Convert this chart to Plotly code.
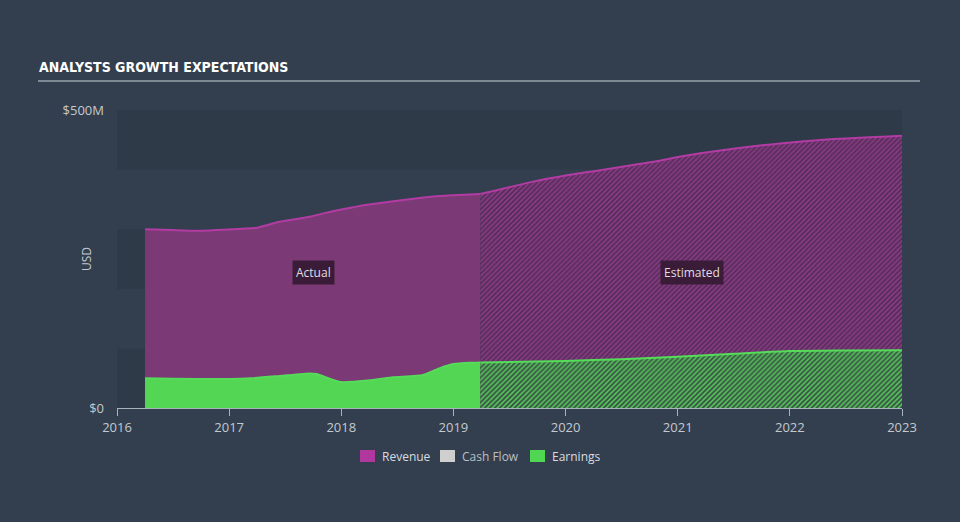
import plotly.graph_objects as go

# ---- data (values in $M, x in fractional years) ----
rev_actual_x = [2016.25, 2016.5, 2016.74, 2016.95, 2017.25, 2017.45, 2017.72, 2017.84, 2018.0, 2018.23, 2018.59, 2018.88, 2019.0, 2019.24]
rev_actual_y = [300, 298.5, 297.5, 299, 302.6, 312.6, 321, 326.6, 333, 341, 350, 355.7, 357, 359]
rev_est_x = [2019.24, 2019.69, 2020.0, 2020.31, 2020.84, 2021.0, 2021.46, 2021.91, 2022.36, 2023.0]
rev_est_y = [359, 379, 390, 399, 415, 421, 434, 444, 451, 457]

earn_actual_x = [2016.25, 2016.5, 2016.95, 2017.2, 2017.45, 2017.72, 2017.78, 2017.99, 2018.28, 2018.46, 2018.73, 2018.88, 2019.0, 2019.17, 2019.24]
earn_actual_y = [50, 49, 48.7, 50, 53.7, 58, 57, 43.6, 47, 51.5, 55.4, 67, 73.8, 76, 76.5]
earn_est_x = [2019.24, 2020.0, 2020.5, 2021.0, 2021.5, 2022.0, 2022.5, 2023.0]
earn_est_y = [76.5, 79, 82, 86, 91, 95.5, 96.5, 97]

year_ticks = [2016, 2017, 2018, 2019, 2020, 2021, 2022, 2023]
y_ticks = [0, 500]
y_tick_text = ["$0", "$500M"]
legend_names = ["Revenue", "Cash Flow", "Earnings"]
legend_colors = ["#b0379e", "#cfcfcf", "#4fd653"]
legend_text_colors = ["#d8dce0", "#b9bfc5", "#d8dce0"]

BG = "#333f4e"
BAND = "#2e3a48"
REV_LINE = "#b23ca3"
REV_FILL = "#7b3a75"
EARN_LINE = "#55dc58"
EARN_FILL = "#52d654"
FONT = "Open Sans, Lato, sans-serif"
TICK_COL = "#c3c9cf"

# pixel -> paper helpers (plot area x 117..902, y 110..408)
def px(xp):
    return (xp - 117) / 785.0

def py(yp):
    return (408 - yp) / 298.0

fig = go.Figure()

fig.add_trace(go.Scatter(
    x=rev_actual_x, y=rev_actual_y, mode="lines", fill="tozeroy",
    line=dict(color=REV_LINE, width=2, shape="spline", smoothing=0.6),
    fillcolor=REV_FILL, showlegend=False, hoverinfo="skip"))
fig.add_trace(go.Scatter(
    x=rev_est_x, y=rev_est_y, mode="lines", fill="tozeroy",
    line=dict(color=REV_LINE, width=2, shape="spline", smoothing=0.6),
    fillcolor="#5a2d5c",
    fillpattern=dict(shape="/", fgcolor="#8e3c88", bgcolor="#552d59", size=3.5, solidity=0.45, fillmode="replace"),
    showlegend=False, hoverinfo="skip"))
fig.add_trace(go.Scatter(
    x=earn_actual_x, y=earn_actual_y, mode="lines", fill="tozeroy",
    line=dict(color=EARN_LINE, width=2, shape="spline", smoothing=0.6),
    fillcolor=EARN_FILL, showlegend=False, hoverinfo="skip"))
fig.add_trace(go.Scatter(
    x=earn_est_x, y=earn_est_y, mode="lines", fill="tozeroy",
    line=dict(color=EARN_LINE, width=2, shape="spline", smoothing=0.6),
    fillcolor="#3f6a4a",
    fillpattern=dict(shape="/", fgcolor="#56c85a", bgcolor="#3a5546", size=3.5, solidity=0.45, fillmode="replace"),
    showlegend=False, hoverinfo="skip"))

shapes = []
for lo, hi in [(0, 100), (200, 300), (400, 500)]:
    shapes.append(dict(type="rect", xref="paper", yref="y", x0=0, x1=1, y0=lo, y1=hi,
                       fillcolor=BAND, line=dict(width=0), layer="below"))
shapes.append(dict(type="line", xref="paper", yref="paper", x0=px(38), x1=px(920), y0=py(81), y1=py(81),
                   line=dict(color="#9aa3ad", width=1.5)))

annotations = [
    dict(text="<b>ANALYSTS GROWTH EXPECTATIONS</b>", xref="paper", yref="paper",
         x=px(37), y=py(67), xanchor="left", yanchor="middle", showarrow=False,
         font=dict(family="DejaVu Sans Condensed, Liberation Sans Narrow, Arial Narrow, sans-serif", size=14, color="#ffffff")),
    dict(text="USD", xref="paper", yref="paper", x=px(86), y=0.5, textangle=-90,
         xanchor="center", showarrow=False, font=dict(family=FONT, size=12, color=TICK_COL)),
    dict(text="Actual", x=2017.75, y=228, xref="x", yref="y", showarrow=False,
         bgcolor="#3a1c38", borderpad=3, font=dict(family=FONT, size=12, color="#e0dce0")),
    dict(text="Estimated", x=2021.13, y=228, xref="x", yref="y", showarrow=False,
         bgcolor="#3a1c38", borderpad=3, font=dict(family=FONT, size=12, color="#e0dce0")),
]

# custom legend
legend_sq_x = [360, 440, 530]
for name, col, tcol, sx in zip(legend_names, legend_colors, legend_text_colors, legend_sq_x):
    shapes.append(dict(type="rect", xref="paper", yref="paper", x0=px(sx), x1=px(sx + 15),
                       y0=py(462), y1=py(450), fillcolor=col, line=dict(width=0)))
    annotations.append(dict(text=name, xref="paper", yref="paper", x=px(sx + 20), y=py(456),
                            xanchor="left", yanchor="middle", showarrow=False,
                            font=dict(family=FONT, size=12, color=tcol)))

fig.update_layout(
    width=960, height=522,
    margin=dict(l=117, r=58, t=110, b=114),
    paper_bgcolor=BG, plot_bgcolor=BG,
    font=dict(family=FONT, size=12, color=TICK_COL),
    shapes=shapes, annotations=annotations,
    showlegend=False,
    xaxis=dict(range=[2016, 2023], tickvals=year_ticks, ticktext=[str(y) for y in year_ticks],
               showgrid=False, zeroline=False, showline=True, linecolor="#aab2bb", linewidth=1,
               ticks="outside", ticklen=7, tickcolor="#aab2bb", tickwidth=1,
               tickfont=dict(family=FONT, size=13, color=TICK_COL)),
    yaxis=dict(range=[0, 500], tickvals=y_ticks, ticktext=y_tick_text, showgrid=False,
               zeroline=False, showline=False, ticks="", ticklabelstandoff=12,
               tickfont=dict(family=FONT, size=13, color=TICK_COL)),
)

fig.write_html("out.html")
